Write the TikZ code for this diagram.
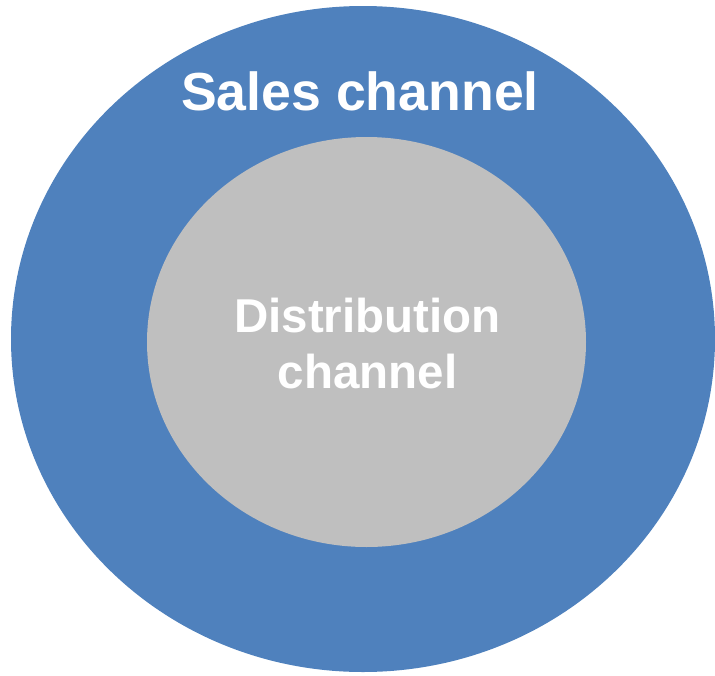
\documentclass[tikz,border=0pt]{standalone}
\usepackage{fontspec}
\setmainfont{Liberation Sans}
\definecolor{outerblue}{HTML}{4F81BD}
\definecolor{innergray}{HTML}{BFBFBF}
\begin{document}
\begin{tikzpicture}[x=1pt,y=-1pt,
  lbl/.style={text=white,font=\bfseries\fontsize{53.6}{57}\selectfont,anchor=base,inner sep=0pt},
  lbl2/.style={text=white,font=\bfseries\fontsize{47.5}{57}\selectfont,anchor=base,inner sep=0pt}]
\useasboundingbox (0,0) rectangle (715,675);
\fill[outerblue] (363,339) ellipse [x radius=352, y radius=333];
\fill[innergray] (366.5,342) ellipse [x radius=219.5, y radius=205];
\node[lbl] (sales) at (360,110) {Sales channel};
\node[lbl2] (dist1) at (367.5,332) {Distribution};
\node[lbl2] (dist2) at (367.5,388) {channel};
\end{tikzpicture}
\end{document}
